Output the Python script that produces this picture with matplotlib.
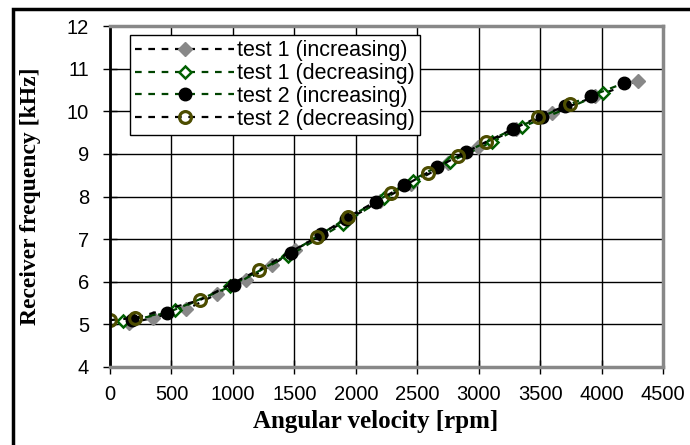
import matplotlib
matplotlib.use('Agg')
import matplotlib.pyplot as plt
from matplotlib.patches import Rectangle

# test 1 (increasing) - grey diamonds
t1_inc_x = [155, 350, 620, 870, 1107, 1318, 1505, 1720, 1930, 2200, 2450, 2750, 2995, 3300, 3597, 3950, 4296]
t1_inc_y = [5.03, 5.15, 5.35, 5.71, 6.04, 6.39, 6.75, 7.1, 7.45, 7.9, 8.3, 8.78, 9.16, 9.58, 9.96, 10.35, 10.71]

# test 1 (decreasing) - green open diamonds
t1_dec_x = [106, 533, 976, 1448, 1892, 2230, 2462, 2763, 3108, 3353, 4012]
t1_dec_y = [5.07, 5.33, 5.9, 6.6, 7.35, 7.96, 8.36, 8.81, 9.28, 9.63, 10.42]

# test 2 (increasing) - black circles
t2_inc_x = [179, 463, 1009, 1473, 1721, 1920, 2165, 2396, 2661, 2900, 3280, 3515, 3702, 3914, 4183]
t2_inc_y = [5.10, 5.27, 5.92, 6.68, 7.13, 7.47, 7.88, 8.28, 8.70, 9.05, 9.58, 9.87, 10.12, 10.36, 10.66]

# test 2 (decreasing) - olive open circles
t2_dec_x = [0, 203, 732, 1212, 1684, 1937, 2287, 2584, 2828, 3059, 3483, 3743]
t2_dec_y = [5.10, 5.15, 5.57, 6.28, 7.05, 7.52, 8.08, 8.56, 8.94, 9.28, 9.86, 10.17]

xticks = [0, 500, 1000, 1500, 2000, 2500, 3000, 3500, 4000, 4500]
yticks = [4, 5, 6, 7, 8, 9, 10, 11, 12]

green = '#004400'
olive = '#4d4d00'

plt.rcParams['font.family'] = ['Liberation Sans', 'DejaVu Sans']

fig = plt.figure(figsize=(6.9, 4.45), dpi=100)
ax = fig.add_axes([110 / 690, 1 - 367 / 445, 553 / 690, 341 / 445])

ax.plot(t1_inc_x, t1_inc_y, color='black', ls=(0, (3, 3)), lw=1.6,
        marker='D', ms=7, mfc='#888888', mec='#888888', label='test 1 (increasing)')
ax.plot(t1_dec_x, t1_dec_y, color=green, ls=(0, (3, 3)), lw=1.6,
        marker='D', ms=6, mfc='white', mec='#006000', mew=1.8, label='test 1 (decreasing)')
ax.plot(t2_inc_x, t2_inc_y, color=green, ls=(0, (3, 3)), lw=1.6,
        marker='o', ms=9, mfc='black', mec='black', label='test 2 (increasing)')
ax.plot(t2_dec_x, t2_dec_y, color='black', ls=(0, (3, 3)), lw=1.6,
        marker='o', ms=8.5, mfc='none', mec=olive, mew=2.3, label='test 2 (decreasing)')

ax.set_xlim(0, 4500)
ax.set_ylim(4, 12)
ax.set_xticks(xticks)
ax.set_yticks(yticks)
ax.grid(True, color='black', lw=1)
ax.set_axisbelow(True)
ax.tick_params(direction='inout', length=10, width=1, labelsize=14.5)
ax.tick_params(axis='y', pad=10)
ax.tick_params(axis='x', pad=8)

for s in ['top', 'right', 'bottom']:
    ax.spines[s].set_color('#888888')
    ax.spines[s].set_linewidth(2.5)
ax.spines['left'].set_color('black')
ax.spines['left'].set_linewidth(2)

ax.set_xlabel('Angular velocity [rpm]', family='Liberation Serif', weight='bold', fontsize=18)
ax.set_ylabel('Receiver frequency [kHz]', family='Liberation Serif', weight='bold', fontsize=17, labelpad=19)
ax.xaxis.set_label_coords(0.481, -0.125)

leg = ax.legend(loc='upper left', bbox_to_anchor=(20 / 553, 1 - 9 / 341), fontsize=15.5, frameon=True,
                fancybox=False, edgecolor='black', framealpha=1, borderpad=0.25,
                labelspacing=0.08, handlelength=4.6, handletextpad=0.1, borderaxespad=0)
leg.get_frame().set_linewidth(1)

# outer frame around the whole chart
fig.add_artist(Rectangle((13 / 690, -0.2), 1.2, 1.2 - 9 / 445, transform=fig.transFigure,
                         fill=False, edgecolor='black', lw=2.5))

plt.savefig('out.png', dpi=100)
